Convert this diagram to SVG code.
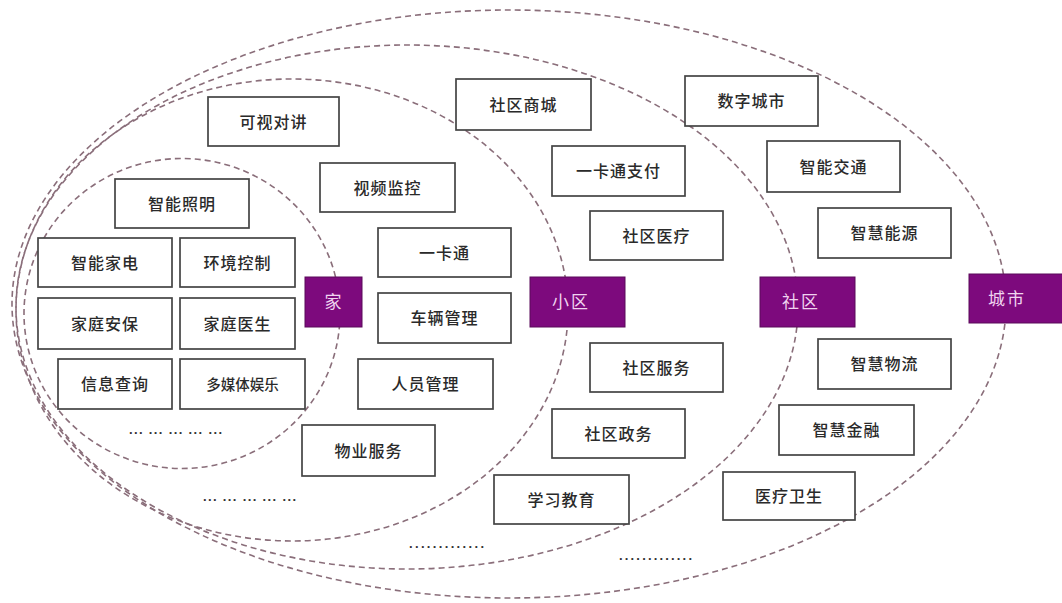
<svg xmlns="http://www.w3.org/2000/svg" width="1062" height="603" viewBox="0 0 1062 603">
<style>
.ring{fill:none;stroke:#8a6e7a;stroke-width:1.6;stroke-dasharray:6 4}
.box{fill:#fff;stroke:#444;stroke-width:1.7}
.lbl{font-family:"Noto Sans CJK SC","Noto Sans",sans-serif;font-size:16px;font-weight:500;fill:#2a2a2a;text-anchor:middle;letter-spacing:1px}
.pbox{fill:#7d0a7d;stroke:#5a0a5a;stroke-width:1}
.plbl{font-family:"Noto Sans CJK SC","Noto Sans",sans-serif;font-size:17px;fill:#f0d4f0;text-anchor:middle;letter-spacing:2px}
.dots{font-family:"Liberation Sans",sans-serif;font-size:13px;font-weight:bold;fill:#333}
</style>
<rect x="0" y="0" width="1062" height="603" fill="#fff"/>
<g id="connectors">
<ellipse class="ring" cx="182" cy="313.5" rx="158" ry="155"/>
<ellipse class="ring" cx="292" cy="310" rx="276" ry="231"/>
<ellipse class="ring" cx="407" cy="307" rx="391" ry="262"/>
<ellipse class="ring" cx="509" cy="304" rx="497" ry="294"/>
</g>
<g id="n-kszj"><rect class="box" x="208" y="97" width="131" height="49"/><text class="lbl" x="273.5" y="127.5">可视对讲</text></g>
<g id="n-spjk"><rect class="box" x="320" y="163" width="135" height="49"/><text class="lbl" x="387.5" y="193.5">视频监控</text></g>
<g id="n-znzm"><rect class="box" x="115" y="179" width="134" height="49"/><text class="lbl" x="182" y="209.5">智能照明</text></g>
<g id="n-znjd"><rect class="box" x="38" y="238" width="134" height="49"/><text class="lbl" x="105" y="268.5">智能家电</text></g>
<g id="n-hjkz"><rect class="box" x="180" y="238" width="115" height="49"/><text class="lbl" x="237.5" y="268.5">环境控制</text></g>
<g id="n-ykt"><rect class="box" x="378" y="228" width="133" height="49"/><text class="lbl" x="444.5" y="258.5">一卡通</text></g>
<g id="n-jtab"><rect class="box" x="38" y="298" width="134" height="51"/><text class="lbl" x="105" y="329.5">家庭安保</text></g>
<g id="n-jtys"><rect class="box" x="180" y="298" width="115" height="51"/><text class="lbl" x="237.5" y="329.5">家庭医生</text></g>
<g id="n-xxcx"><rect class="box" x="58" y="359" width="114" height="50"/><text class="lbl" x="115" y="390">信息查询</text></g>
<g id="n-dmtyl"><rect class="box" x="180" y="359" width="125" height="50"/><text class="lbl" x="242.5" y="389.5" style="font-size:14.5px;letter-spacing:0">多媒体娱乐</text></g>
<g id="n-clgl"><rect class="box" x="378" y="293" width="133" height="50"/><text class="lbl" x="444.5" y="324">车辆管理</text></g>
<g id="n-rygl"><rect class="box" x="358" y="359" width="135" height="50"/><text class="lbl" x="425.5" y="390">人员管理</text></g>
<g id="n-wyfw"><rect class="box" x="302" y="425" width="133" height="51"/><text class="lbl" x="368.5" y="456.5">物业服务</text></g>
<g id="n-xxjy"><rect class="box" x="494" y="475" width="135" height="49"/><text class="lbl" x="561.5" y="505.5">学习教育</text></g>
<g id="n-sqsc"><rect class="box" x="456" y="79" width="135" height="51"/><text class="lbl" x="523.5" y="110.5">社区商城</text></g>
<g id="n-szcs"><rect class="box" x="685" y="76" width="133" height="50"/><text class="lbl" x="751.5" y="107">数字城市</text></g>
<g id="n-yktzf"><rect class="box" x="552" y="146" width="133" height="50"/><text class="lbl" x="618.5" y="177">一卡通支付</text></g>
<g id="n-znjt"><rect class="box" x="767" y="141" width="133" height="51"/><text class="lbl" x="833.5" y="172.5">智能交通</text></g>
<g id="n-sqyl"><rect class="box" x="590" y="211" width="133" height="49"/><text class="lbl" x="656.5" y="241.5">社区医疗</text></g>
<g id="n-zhny"><rect class="box" x="818" y="208" width="133" height="50"/><text class="lbl" x="884.5" y="239">智慧能源</text></g>
<g id="n-sqfw"><rect class="box" x="590" y="343" width="133" height="49"/><text class="lbl" x="656.5" y="373.5">社区服务</text></g>
<g id="n-sqzw"><rect class="box" x="552" y="409" width="133" height="49"/><text class="lbl" x="618.5" y="439.5">社区政务</text></g>
<g id="n-zhwl"><rect class="box" x="818" y="339" width="133" height="50"/><text class="lbl" x="884.5" y="370">智慧物流</text></g>
<g id="n-zhjr"><rect class="box" x="779" y="405" width="135" height="50"/><text class="lbl" x="846.5" y="436">智慧金融</text></g>
<g id="n-ylws"><rect class="box" x="723" y="472" width="132" height="48"/><text class="lbl" x="789" y="502">医疗卫生</text></g>
<g id="n-jia"><rect class="pbox" x="305" y="277" width="57" height="50"/><text class="plbl" x="334" y="308">家</text></g>
<g id="n-xiaoqu"><rect class="pbox" x="530" y="277" width="95" height="50"/><text class="plbl" x="571" y="308">小区</text></g>
<g id="n-shequ"><rect class="pbox" x="760" y="277" width="95" height="50"/><text class="plbl" x="801" y="308">社区</text></g>
<g id="n-chengshi"><rect class="pbox" x="969" y="274" width="97" height="49"/><text class="plbl" x="1007" y="305">城市</text></g>
<g id="dots">
<text class="dots" x="129" y="434" textLength="93" lengthAdjust="spacing">... ... ... ... ...</text>
<text class="dots" x="203" y="501" textLength="93" lengthAdjust="spacing">... ... ... ... ...</text>
<text class="dots" x="409" y="548" textLength="75" lengthAdjust="spacing">.............</text>
<text class="dots" x="619" y="560" textLength="73" lengthAdjust="spacing">.............</text>
</g>
</svg>
